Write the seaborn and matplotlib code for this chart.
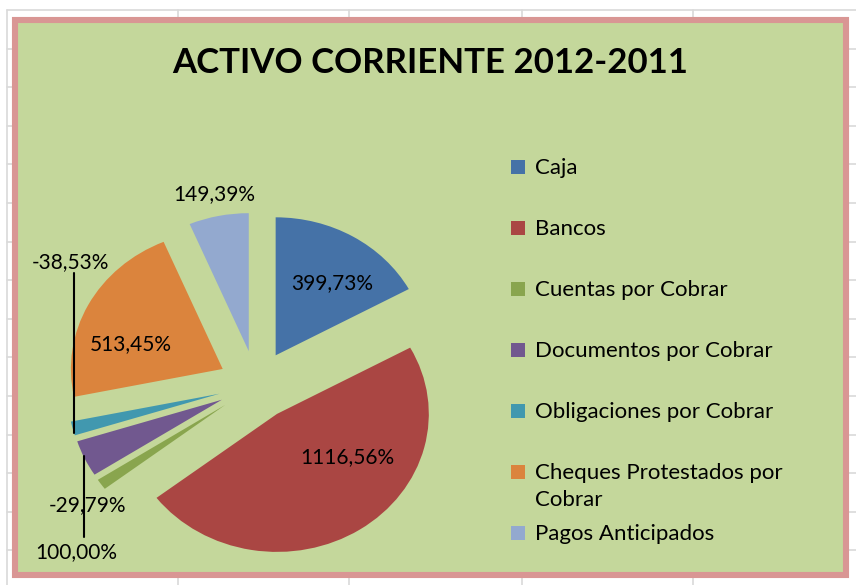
import numpy as np
import matplotlib
matplotlib.use("Agg")
import matplotlib.pyplot as plt
import seaborn as sns
from matplotlib.patches import Rectangle

# === Datos ===
categorias = ["Caja", "Bancos", "Cuentas por Cobrar", "Documentos por Cobrar",
              "Obligaciones por Cobrar", "Cheques Protestados por\nCobrar",
              "Pagos Anticipados"]
variacion = [399.73, 1116.56, -29.79, 100.00, -38.53, 513.45, 149.39]
colores = ["#4572A7", "#AA4643", "#89A54E", "#71588F", "#4198AF", "#DB843D", "#93A9CF"]
titulo = "ACTIVO CORRIENTE 2012-2011"

sns.set_theme(style="white")
plt.rcParams['font.family'] = ['Lato', 'DejaVu Sans']
plt.rcParams['text.color'] = 'black'

W, H = 856, 585
SX = 1.1  # el gráfico original está algo estirado en horizontal
fig = plt.figure(figsize=(W / 100, H / 100), dpi=100)
fig.patch.set_facecolor("white")

# ejes en pixeles para fondo, título y leyenda
ax = fig.add_axes([0, 0, 1, 1])
ax.set_xlim(0, W)
ax.set_ylim(0, H)
ax.axis("off")

# === Cuadrícula de la hoja (Excel) ===
for gx in [7, 178, 349, 522, 693]:
    ax.plot([gx, gx], [0, H - 10], color="#D9D9D9", lw=1.2, zorder=0)
for gy in np.arange(10, H, 38.6):
    ax.plot([7, W], [H - gy, H - gy], color="#D9D9D9", lw=1.2, zorder=0)

# === Área del gráfico ===
ax.add_patch(Rectangle((15, H - 575), 831, 555, facecolor="#C4D79B",
                       edgecolor="#D99694", lw=4.4, zorder=1))

ax.text(430, H - 63, titulo, ha="center", va="center", fontsize=25,
        fontweight="bold", color="black", zorder=5)

# === Torta (ejes propios, escala x estirada) ===
ax2 = fig.add_axes([0, 0, 1, 1])
ax2.patch.set_alpha(0)
cx, cy, r = 233, H - 385, 138
tamanos = np.abs(variacion)
wedges, _ = ax2.pie(tamanos, colors=colores, startangle=90, counterclock=False,
                    explode=[0.25 * r] * len(tamanos), radius=r, center=(cx, cy),
                    wedgeprops=dict(linewidth=0), frame=True)
ax2.set_xlim(0, W / SX)
ax2.set_ylim(0, H)
ax2.set_aspect("auto")
ax2.axis("off")

etiquetas = [f"{v:.2f}%".replace(".", ",") for v in variacion]
px_tr = ax.transData  # coordenadas en pixeles, dibujadas sobre la torta

def punto(w, frac, desv=0.0):
    # punto de la porción en pixeles
    ang = np.deg2rad((w.theta1 + w.theta2) / 2 + desv)
    x0, y0 = w.center
    return SX * (x0 + frac * w.r * np.cos(ang)), y0 + frac * w.r * np.sin(ang)

def etiqueta(x, y, s):
    ax2.text(x, y, s, ha="center", va="center", fontsize=15, color="black",
             zorder=5, transform=px_tr)

# etiquetas dentro / fuera de la porción: (fracción de radio, desvío de ángulo)
pos_lbl = {0: (0.64, -5), 1: (0.56, 23), 5: (0.63, 11), 6: (1.16, 0)}
for i, (frac, dv) in pos_lbl.items():
    x, y = punto(wedges[i], frac, dv)
    etiqueta(x, y, etiquetas[i])

# etiquetas con línea guía
tx, ty = punto(wedges[4], 1.0, 2)
ax2.plot([tx, tx], [ty, H - 273], color="black", lw=1.5, zorder=4, transform=px_tr)
etiqueta(tx - 4, H - 262, etiquetas[4])

px, py = punto(wedges[3], 1.0, -1)
ax2.plot([px, px], [py, H - 537], color="black", lw=1.5, zorder=4, transform=px_tr)
etiqueta(px - 7, H - 552, etiquetas[3])

etiqueta(88, H - 505, etiquetas[2])

# === Leyenda ===
ly = H - 167
for cat, col in zip(categorias, colores):
    ax.add_patch(Rectangle((511, ly - 7), 14, 14, facecolor=col, edgecolor="none", zorder=4))
    ax.text(535, ly + 9, cat, ha="left", va="top", fontsize=16, color="black",
            linespacing=1.45, zorder=5)
    ly -= 61

fig.savefig("out.png", dpi=100, facecolor=fig.get_facecolor())
